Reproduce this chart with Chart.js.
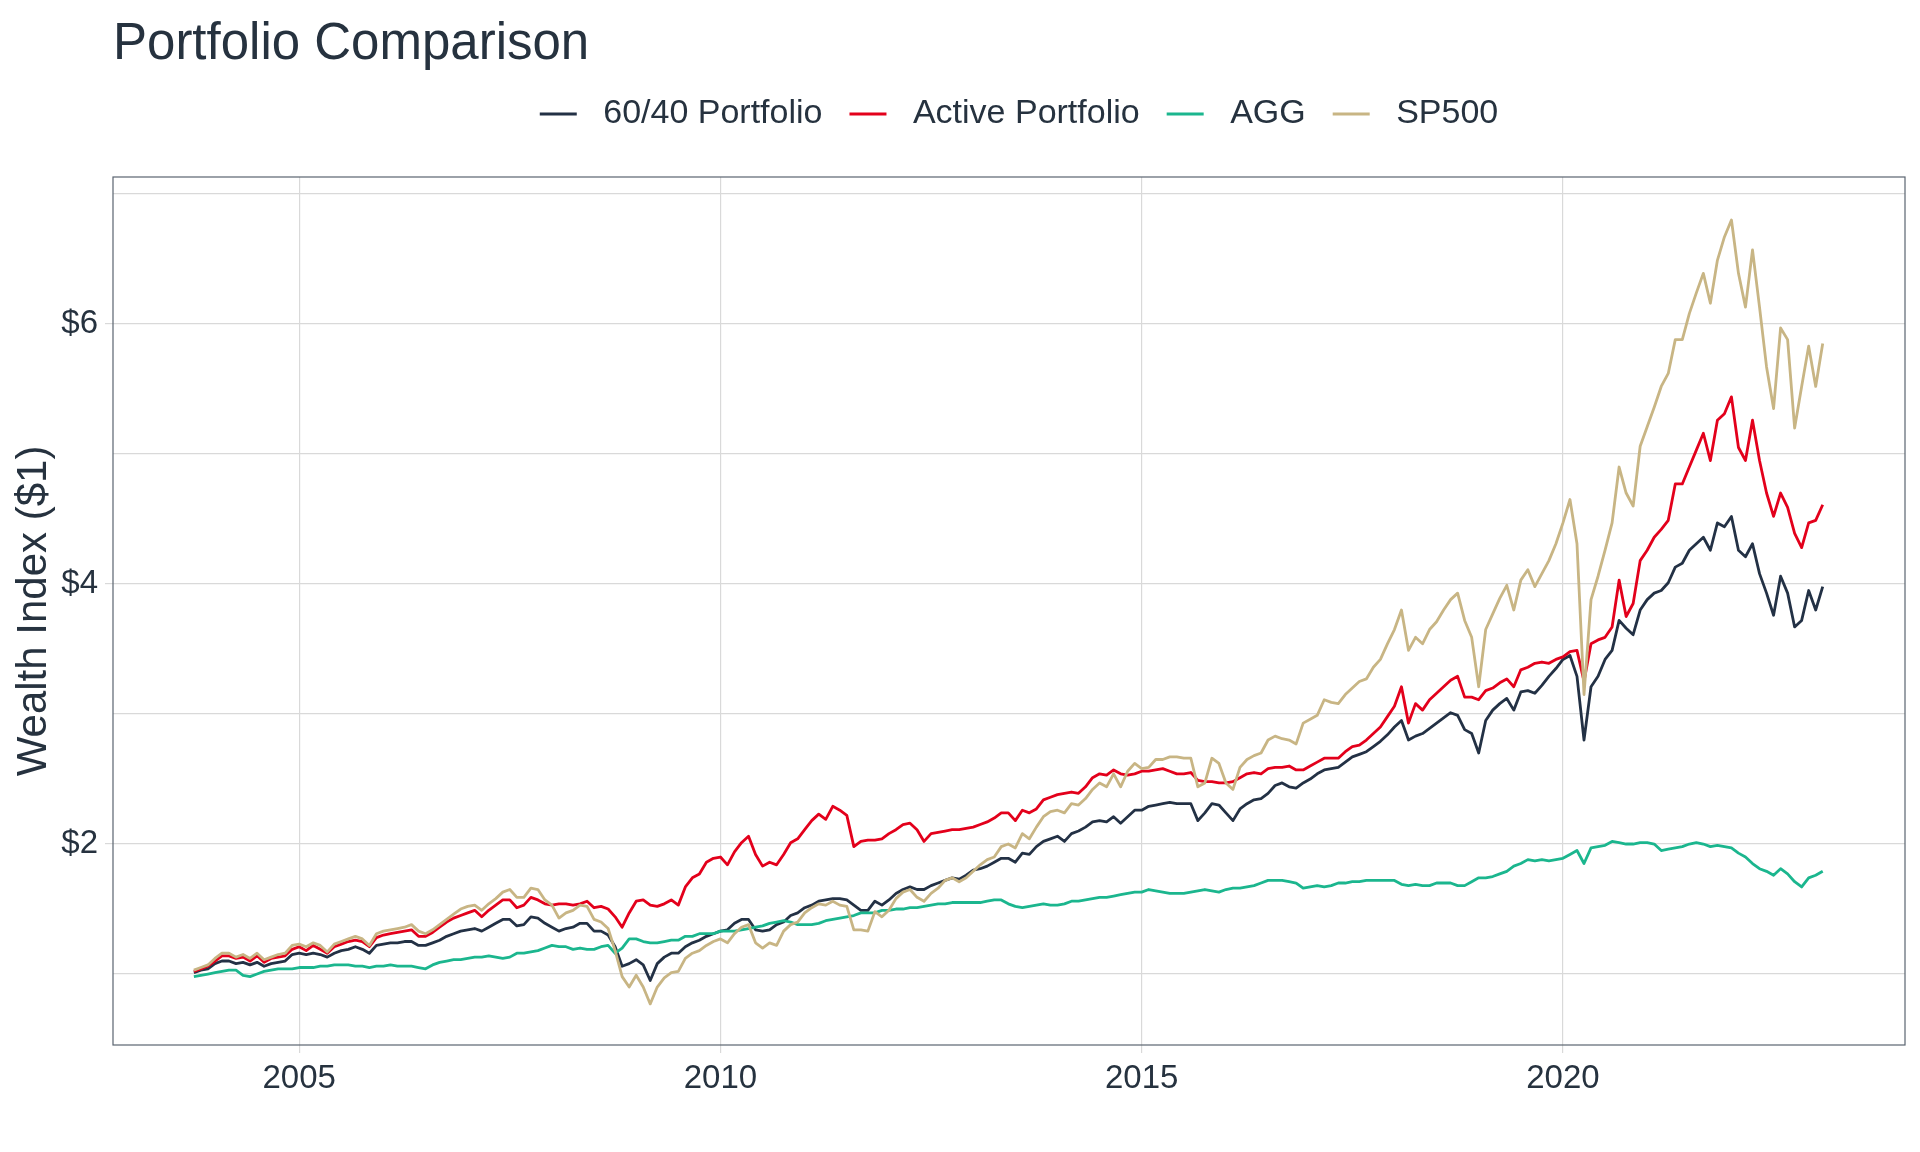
<!DOCTYPE html>
<html>
<head>
<meta charset="utf-8">
<title>Portfolio Comparison</title>
<script src="https://cdn.jsdelivr.net/npm/chart.js@4.4.1/dist/chart.umd.min.js"></script>
<style>
  html, body { margin: 0; padding: 0; background: #ffffff; }
  #wrap { width: 1920px; height: 1152px; }
</style>
</head>
<body>
<div id="wrap"><canvas id="myChart" width="1920" height="1152"></canvas></div>
<script>
// month of each observation (start of month)
var months = [
  '2003-10','2003-11','2003-12',
  '2004-01','2004-02','2004-03','2004-04','2004-05','2004-06','2004-07','2004-08','2004-09','2004-10','2004-11','2004-12',
  '2005-01','2005-02','2005-03','2005-04','2005-05','2005-06','2005-07','2005-08','2005-09','2005-10','2005-11','2005-12',
  '2006-01','2006-02','2006-03','2006-04','2006-05','2006-06','2006-07','2006-08','2006-09','2006-10','2006-11','2006-12',
  '2007-01','2007-02','2007-03','2007-04','2007-05','2007-06','2007-07','2007-08','2007-09','2007-10','2007-11','2007-12',
  '2008-01','2008-02','2008-03','2008-04','2008-05','2008-06','2008-07','2008-08','2008-09','2008-10','2008-11','2008-12',
  '2009-01','2009-02','2009-03','2009-04','2009-05','2009-06','2009-07','2009-08','2009-09','2009-10','2009-11','2009-12',
  '2010-01','2010-02','2010-03','2010-04','2010-05','2010-06','2010-07','2010-08','2010-09','2010-10','2010-11','2010-12',
  '2011-01','2011-02','2011-03','2011-04','2011-05','2011-06','2011-07','2011-08','2011-09','2011-10','2011-11','2011-12',
  '2012-01','2012-02','2012-03','2012-04','2012-05','2012-06','2012-07','2012-08','2012-09','2012-10','2012-11','2012-12',
  '2013-01','2013-02','2013-03','2013-04','2013-05','2013-06','2013-07','2013-08','2013-09','2013-10','2013-11','2013-12',
  '2014-01','2014-02','2014-03','2014-04','2014-05','2014-06','2014-07','2014-08','2014-09','2014-10','2014-11','2014-12',
  '2015-01','2015-02','2015-03','2015-04','2015-05','2015-06','2015-07','2015-08','2015-09','2015-10','2015-11','2015-12',
  '2016-01','2016-02','2016-03','2016-04','2016-05','2016-06','2016-07','2016-08','2016-09','2016-10','2016-11','2016-12',
  '2017-01','2017-02','2017-03','2017-04','2017-05','2017-06','2017-07','2017-08','2017-09','2017-10','2017-11','2017-12',
  '2018-01','2018-02','2018-03','2018-04','2018-05','2018-06','2018-07','2018-08','2018-09','2018-10','2018-11','2018-12',
  '2019-01','2019-02','2019-03','2019-04','2019-05','2019-06','2019-07','2019-08','2019-09','2019-10','2019-11','2019-12',
  '2020-01','2020-02','2020-03','2020-04','2020-05','2020-06','2020-07','2020-08','2020-09','2020-10','2020-11','2020-12',
  '2021-01','2021-02','2021-03','2021-04','2021-05','2021-06','2021-07','2021-08','2021-09','2021-10','2021-11','2021-12',
  '2022-01','2022-02','2022-03','2022-04','2022-05','2022-06','2022-07','2022-08','2022-09','2022-10','2022-11','2022-12',
  '2023-01','2023-02'
];

var portfolio6040 = [
  1.01, 1.03, 1.04,
  1.08, 1.10, 1.10, 1.08, 1.09, 1.07, 1.09, 1.06, 1.08, 1.09, 1.10, 1.15,
  1.16, 1.15, 1.16, 1.15, 1.13, 1.16, 1.18, 1.19, 1.21, 1.19, 1.16, 1.22,
  1.23, 1.24, 1.24, 1.25, 1.25, 1.22, 1.22, 1.24, 1.26, 1.29, 1.31, 1.33,
  1.34, 1.35, 1.33, 1.36, 1.39, 1.42, 1.42, 1.37, 1.38, 1.44, 1.43, 1.39,
  1.36, 1.33, 1.35, 1.36, 1.39, 1.39, 1.33, 1.33, 1.30, 1.21, 1.06, 1.08,
  1.11, 1.07, 0.95, 1.08, 1.13, 1.16, 1.16, 1.21, 1.24, 1.26, 1.29, 1.31,
  1.33, 1.34, 1.39, 1.42, 1.42, 1.34, 1.33, 1.34, 1.38, 1.40, 1.45, 1.47,
  1.51, 1.53, 1.56, 1.57, 1.58, 1.58, 1.57, 1.53, 1.49, 1.49, 1.56, 1.53,
  1.57, 1.62, 1.65, 1.67, 1.65, 1.65, 1.68, 1.70, 1.72, 1.74, 1.73, 1.76,
  1.80, 1.81, 1.83, 1.86, 1.89, 1.89, 1.86, 1.93, 1.92, 1.98, 2.02, 2.04,
  2.06, 2.02, 2.08, 2.10, 2.13, 2.17, 2.18, 2.17, 2.21, 2.16, 2.21, 2.26,
  2.26, 2.29, 2.30, 2.31, 2.32, 2.31, 2.31, 2.31, 2.18, 2.24, 2.31, 2.30,
  2.24, 2.18, 2.27, 2.31, 2.34, 2.35, 2.39, 2.45, 2.47, 2.44, 2.43, 2.47,
  2.50, 2.54, 2.57, 2.58, 2.59, 2.63, 2.67, 2.69, 2.71, 2.75, 2.79, 2.84,
  2.90, 2.95, 2.80, 2.83, 2.85, 2.89, 2.93, 2.97, 3.01, 2.99, 2.88, 2.85,
  2.70, 2.95, 3.03, 3.08, 3.12, 3.03, 3.17, 3.18, 3.16, 3.22, 3.29, 3.35,
  3.42, 3.45, 3.29, 2.80, 3.21, 3.29, 3.42, 3.49, 3.72, 3.66, 3.61, 3.80,
  3.88, 3.93, 3.95, 4.01, 4.13, 4.16, 4.26, 4.31, 4.36, 4.26, 4.47, 4.44,
  4.52, 4.26, 4.21, 4.31, 4.08, 3.93, 3.76, 4.06, 3.93, 3.67, 3.72, 3.95,
  3.80, 3.98
];

var activePortfolio = [
  1.02, 1.04, 1.06,
  1.10, 1.14, 1.14, 1.12, 1.13, 1.10, 1.14, 1.09, 1.12, 1.13, 1.14, 1.19,
  1.21, 1.18, 1.22, 1.19, 1.16, 1.21, 1.23, 1.25, 1.26, 1.25, 1.21, 1.28,
  1.30, 1.31, 1.32, 1.33, 1.34, 1.29, 1.29, 1.32, 1.36, 1.40, 1.43, 1.45,
  1.47, 1.49, 1.44, 1.49, 1.53, 1.57, 1.57, 1.51, 1.53, 1.59, 1.57, 1.54,
  1.53, 1.54, 1.54, 1.53, 1.54, 1.56, 1.51, 1.52, 1.50, 1.44, 1.36, 1.47,
  1.56, 1.57, 1.53, 1.52, 1.54, 1.57, 1.53, 1.67, 1.74, 1.77, 1.86, 1.89,
  1.90, 1.84, 1.94, 2.01, 2.06, 1.92, 1.83, 1.86, 1.84, 1.92, 2.01, 2.04,
  2.11, 2.18, 2.23, 2.19, 2.29, 2.26, 2.22, 1.98, 2.02, 2.03, 2.03, 2.04,
  2.08, 2.11, 2.15, 2.16, 2.11, 2.02, 2.08, 2.09, 2.10, 2.11, 2.11, 2.12,
  2.13, 2.15, 2.17, 2.20, 2.24, 2.24, 2.18, 2.26, 2.24, 2.27, 2.34, 2.36,
  2.38, 2.39, 2.40, 2.39, 2.44, 2.51, 2.54, 2.53, 2.57, 2.54, 2.53, 2.54,
  2.56, 2.56, 2.57, 2.58, 2.56, 2.54, 2.54, 2.55, 2.49, 2.48, 2.48, 2.47,
  2.47, 2.48, 2.51, 2.54, 2.55, 2.54, 2.58, 2.59, 2.59, 2.60, 2.57, 2.57,
  2.60, 2.63, 2.66, 2.66, 2.66, 2.71, 2.75, 2.76, 2.80, 2.85, 2.90, 2.98,
  3.06, 3.21, 2.93, 3.08, 3.03, 3.11, 3.16, 3.21, 3.26, 3.29, 3.13, 3.13,
  3.11, 3.18, 3.20, 3.24, 3.27, 3.21, 3.34, 3.36, 3.39, 3.40, 3.39, 3.42,
  3.44, 3.48, 3.49, 3.25, 3.54, 3.57, 3.59, 3.67, 4.03, 3.75, 3.85, 4.18,
  4.26, 4.36, 4.42, 4.49, 4.77, 4.77, 4.90, 5.03, 5.16, 4.95, 5.26, 5.31,
  5.44, 5.05, 4.95, 5.26, 4.95, 4.70, 4.52, 4.70, 4.59, 4.39, 4.28, 4.47,
  4.49, 4.61
];

var agg = [
  0.98, 0.99, 1.00,
  1.01, 1.02, 1.03, 1.03, 0.99, 0.98, 1.00, 1.02, 1.03, 1.04, 1.04, 1.04,
  1.05, 1.05, 1.05, 1.06, 1.06, 1.07, 1.07, 1.07, 1.06, 1.06, 1.05, 1.06,
  1.06, 1.07, 1.06, 1.06, 1.06, 1.05, 1.04, 1.07, 1.09, 1.10, 1.11, 1.11,
  1.12, 1.13, 1.13, 1.14, 1.13, 1.12, 1.13, 1.16, 1.16, 1.17, 1.18, 1.20,
  1.22, 1.21, 1.21, 1.19, 1.20, 1.19, 1.19, 1.21, 1.22, 1.16, 1.20, 1.27,
  1.27, 1.25, 1.24, 1.24, 1.25, 1.26, 1.26, 1.29, 1.29, 1.31, 1.31, 1.31,
  1.33, 1.33, 1.33, 1.34, 1.35, 1.36, 1.37, 1.39, 1.40, 1.41, 1.40, 1.38,
  1.38, 1.38, 1.39, 1.41, 1.42, 1.43, 1.44, 1.45, 1.47, 1.47, 1.47, 1.49,
  1.49, 1.50, 1.50, 1.51, 1.51, 1.52, 1.53, 1.54, 1.54, 1.55, 1.55, 1.55,
  1.55, 1.55, 1.56, 1.57, 1.57, 1.54, 1.52, 1.51, 1.52, 1.53, 1.54, 1.53,
  1.53, 1.54, 1.56, 1.56, 1.57, 1.58, 1.59, 1.59, 1.60, 1.61, 1.62, 1.63,
  1.63, 1.65, 1.64, 1.63, 1.62, 1.62, 1.62, 1.63, 1.64, 1.65, 1.64, 1.63,
  1.65, 1.66, 1.66, 1.67, 1.68, 1.70, 1.72, 1.72, 1.72, 1.71, 1.70, 1.66,
  1.67, 1.68, 1.67, 1.68, 1.70, 1.70, 1.71, 1.71, 1.72, 1.72, 1.72, 1.72,
  1.72, 1.69, 1.68, 1.69, 1.68, 1.68, 1.70, 1.70, 1.70, 1.68, 1.68, 1.71,
  1.74, 1.74, 1.75, 1.77, 1.79, 1.83, 1.85, 1.88, 1.87, 1.88, 1.87, 1.88,
  1.89, 1.92, 1.95, 1.85, 1.97, 1.98, 1.99, 2.02, 2.01, 2.00, 2.00, 2.01,
  2.01, 2.00, 1.95, 1.96, 1.97, 1.98, 2.00, 2.01, 2.00, 1.98, 1.99, 1.98,
  1.97, 1.93, 1.90, 1.85, 1.81, 1.79, 1.76, 1.81, 1.77, 1.71, 1.67, 1.74,
  1.76, 1.79
];

var sp500 = [
  1.03, 1.05, 1.07,
  1.12, 1.16, 1.16, 1.13, 1.15, 1.12, 1.16, 1.11, 1.13, 1.15, 1.16, 1.22,
  1.23, 1.21, 1.24, 1.22, 1.17, 1.23, 1.25, 1.27, 1.29, 1.27, 1.22, 1.31,
  1.33, 1.34, 1.35, 1.36, 1.38, 1.33, 1.31, 1.34, 1.38, 1.42, 1.46, 1.50,
  1.52, 1.53, 1.49, 1.54, 1.58, 1.63, 1.65, 1.59, 1.59, 1.66, 1.65, 1.57,
  1.53, 1.43, 1.47, 1.49, 1.53, 1.52, 1.42, 1.40, 1.35, 1.18, 0.98, 0.90,
  0.99, 0.90, 0.77, 0.90, 0.97, 1.01, 1.02, 1.12, 1.16, 1.18, 1.22, 1.25,
  1.27, 1.24, 1.31, 1.36, 1.38, 1.24, 1.20, 1.24, 1.22, 1.33, 1.38, 1.40,
  1.47, 1.51, 1.54, 1.53, 1.56, 1.53, 1.52, 1.34, 1.34, 1.33, 1.48, 1.44,
  1.49, 1.58, 1.63, 1.65, 1.59, 1.56, 1.62, 1.66, 1.72, 1.74, 1.71, 1.74,
  1.79, 1.84, 1.88, 1.90, 1.98, 2.00, 1.97, 2.08, 2.04, 2.13, 2.21, 2.25,
  2.26, 2.24, 2.31, 2.30, 2.35, 2.42, 2.47, 2.44, 2.54, 2.44, 2.56, 2.62,
  2.58, 2.59, 2.65, 2.65, 2.67, 2.67, 2.66, 2.66, 2.44, 2.47, 2.66, 2.62,
  2.47, 2.42, 2.59, 2.65, 2.68, 2.70, 2.80, 2.83, 2.81, 2.80, 2.77, 2.93,
  2.96, 2.99, 3.11, 3.09, 3.08, 3.15, 3.20, 3.25, 3.27, 3.36, 3.42, 3.54,
  3.65, 3.80, 3.49, 3.59, 3.54, 3.65, 3.71, 3.80, 3.88, 3.93, 3.72, 3.59,
  3.21, 3.65, 3.77, 3.89, 3.99, 3.80, 4.03, 4.11, 3.98, 4.08, 4.18, 4.31,
  4.47, 4.65, 4.31, 3.15, 3.88, 4.06, 4.26, 4.47, 4.90, 4.70, 4.60, 5.06,
  5.21, 5.36, 5.52, 5.62, 5.88, 5.88, 6.08, 6.24, 6.39, 6.16, 6.49, 6.67,
  6.80, 6.39, 6.13, 6.57, 6.13, 5.67, 5.35, 5.97, 5.88, 5.20, 5.52, 5.83,
  5.52, 5.85
];

var seriesNames = ['60/40 Portfolio', 'Active Portfolio', 'AGG', 'SP500'];
var seriesColors = ['#233145', '#E3001B', '#1BB68E', '#C8B584'];
var xTickYears = [2005, 2010, 2015, 2020];
var yGridValues = [1, 2, 3, 4, 5, 6, 7];

var fontFamily = '"Liberation Sans", Arial, Helvetica, sans-serif';
var textColor = '#26323F';
var gridColor = '#D9D9D9';

function toYear(m) {
  var p = m.split('-');
  return parseInt(p[0], 10) + (parseInt(p[1], 10) - 1) / 12;
}

function makePoints(values) {
  return values.map(function (v, i) { return { x: toYear(months[i]), y: v }; });
}

var allValues = [portfolio6040, activePortfolio, agg, sp500];

var datasets = seriesNames.map(function (name, i) {
  return {
    label: name,
    data: makePoints(allValues[i]),
    borderColor: seriesColors[i],
    backgroundColor: seriesColors[i],
    borderWidth: 2.8,
    pointRadius: 0,
    tension: 0,
    borderJoinStyle: 'round',
    xAxisID: 'x',
    yAxisID: 'y',
    order: 3 - i   // SP500 drawn last, on top
  };
});

// panel border round the plot area, and a small nudge of the legend
var panelBorder = {
  id: 'panelBorder',
  afterLayout: function (chart) {
    if (chart.legend) { chart.legend.left += 10; chart.legend.right += 10; }
  },
  afterDatasetsDraw: function (chart) {
    var a = chart.chartArea, ctx = chart.ctx;
    ctx.save();
    ctx.strokeStyle = '#5A6470';
    ctx.lineWidth = 1.2;
    ctx.strokeRect(a.left, a.top, a.right - a.left, a.bottom - a.top);
    ctx.restore();
  }
};

var ctx = document.getElementById('myChart').getContext('2d');
var myChart = new Chart(ctx, {
  type: 'line',
  data: { datasets: datasets },
  plugins: [panelBorder],
  options: {
    responsive: false,
    animation: false,
    events: [],
    layout: { padding: { left: 0, right: 15, top: 0, bottom: 0 } },
    plugins: {
      tooltip: { enabled: false },
      title: {
        display: true,
        text: 'Portfolio Comparison',
        align: 'start',
        fullSize: false,
        color: textColor,
        font: { family: fontFamily, size: 51, weight: 'normal', lineHeight: 1.0 },
        padding: { top: 19, bottom: 0 }
      },
      legend: {
        display: true,
        position: 'top',
        fullSize: false,
        labels: {
          boxWidth: 37,
          boxHeight: 3,
          padding: 27,
          color: textColor,
          font: { family: fontFamily, size: 34 },
          generateLabels: function (chart) {
            return chart.data.datasets.map(function (d, i) {
              return {
                text: ' ' + d.label,
                fillStyle: d.borderColor,
                strokeStyle: d.borderColor,
                lineWidth: 0,
                hidden: false,
                fontColor: textColor,
                datasetIndex: i
              };
            });
          }
        }
      }
    },
    scales: {
      x: {
        type: 'linear',
        position: 'bottom',
        min: 2002.79,
        max: 2024.06,
        afterBuildTicks: function (s) { s.ticks = xTickYears.map(function (v) { return { value: v }; }); },
        afterFit: function (s) { s.height = 107; },
        border: { display: false },
        grid: { color: gridColor, lineWidth: 1.2, tickLength: 8, tickColor: gridColor },
        ticks: {
          color: textColor,
          font: { family: fontFamily, size: 33 },
          padding: 6,
          maxRotation: 0,
          callback: function (v) { return String(v); }
        }
      },
      xTop: {
        type: 'linear',
        position: 'top',
        display: true,
        border: { display: false },
        grid: { display: false, drawTicks: false },
        ticks: { display: false },
        afterFit: function (s) { s.height = 36; }
      },
      y: {
        type: 'linear',
        position: 'left',
        min: 0.454,
        max: 7.131,
        afterBuildTicks: function (s) { s.ticks = yGridValues.map(function (v) { return { value: v }; }); },
        afterFit: function (s) { s.width = 113; },
        border: { display: false },
        grid: {
          color: gridColor,
          lineWidth: 1.2,
          tickLength: 8,
          tickColor: function (c) { return (c.tick && c.tick.value % 2 === 0) ? gridColor : 'rgba(0,0,0,0)'; }
        },
        title: {
          display: true,
          text: 'Wealth Index ($1)',
          color: textColor,
          font: { family: fontFamily, size: 42 },
          padding: { top: 9, bottom: 0 }
        },
        ticks: {
          color: textColor,
          font: { family: fontFamily, size: 33 },
          padding: 7,
          callback: function (v) { return v % 2 === 0 ? '$' + v : ''; }
        }
      }
    }
  }
});
</script>
</body>
</html>
